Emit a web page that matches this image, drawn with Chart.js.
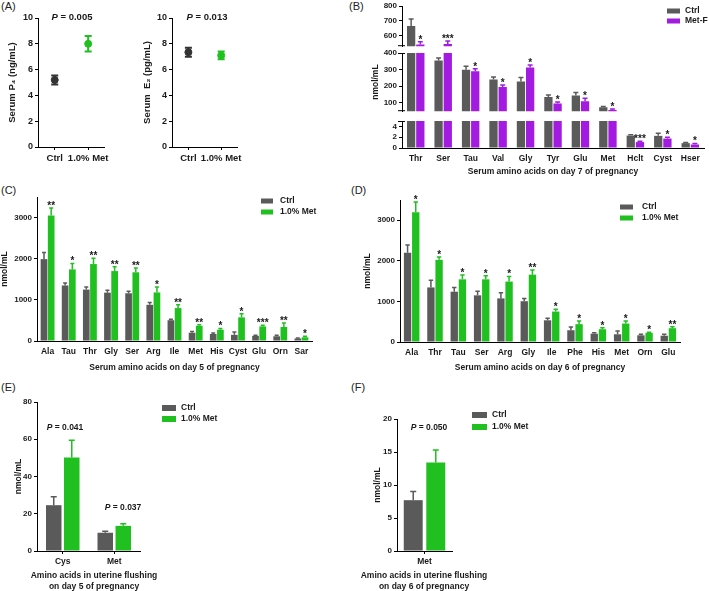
<!DOCTYPE html>
<html>
<head>
<meta charset="utf-8">
<script src="https://cdn.jsdelivr.net/npm/chart.js@4.4.0/dist/chart.umd.min.js"></script>
<style>
  body { margin: 0; background: #fff; }
  #wrap { position: relative; width: 709px; height: 591px; overflow: hidden; font-family: 'Liberation Sans', Arial, sans-serif; }
  #wrap canvas { position: absolute; }
  .tag { position: absolute; font-size: 11px; color: #222; }
</style>
</head>
<body>
<div id="wrap">
  <div class="tag" style="left:1px;top:0px">(A)</div>
  <div class="tag" style="left:349px;top:0px">(B)</div>
  <div class="tag" style="left:1px;top:184px">(C)</div>
  <div class="tag" style="left:351px;top:184px">(D)</div>
  <div class="tag" style="left:1px;top:381px">(E)</div>
  <div class="tag" style="left:351px;top:381px">(F)</div>
  <canvas id="cA1"></canvas>
  <canvas id="cA2"></canvas>
  <canvas id="cBt"></canvas>
  <canvas id="cBm"></canvas>
  <canvas id="cBb"></canvas>
  <canvas id="cC"></canvas>
  <canvas id="cD"></canvas>
  <canvas id="cE"></canvas>
  <canvas id="cF"></canvas>
</div>
<script>
// ---- data ----
// (A) serum hormones
const groupsA = ['Ctrl', '1.0% Met'];
const p4Mean = [5.2, 8.0];
const p4Err = [0.35, 0.6];
const e2Mean = [7.35, 7.1];
const e2Err = [0.35, 0.3];
const ticksA = [0, 2, 4, 6, 8, 10];

// (B) serum amino acids, day 7
const aminoB = ['Thr', 'Ser', 'Tau', 'Val', 'Gly', 'Tyr', 'Glu', 'Met', 'Hclt', 'Cyst', 'Hser'];
const ctrlB = [665, 355, 300, 240, 228, 135, 145, 74, 2.3, 2.25, 0.9];
const ctrlBErr = [47, 15, 20, 15, 25, 13, 18, 5, 0.15, 0.5, 0.1];
const metFB = [542, 545, 290, 195, 313, 96, 110, 57, 1.1, 1.75, 0.65];
const metFBErr = [18, 20, 15, 13, 15, 10, 18, 6, 0.15, 0.25, 0.2];
const starsB = ['*', '***', '*', '*', '*', '*', '*', '*', '***', '*', '*'];
const ticksBTop = [600, 700, 800];
const ticksBMid = [100, 200, 300, 400];
const ticksBBot = [0, 2, 4];

// (C) serum amino acids, day 5
const aminoC = ['Ala', 'Tau', 'Thr', 'Gly', 'Ser', 'Arg', 'Ile', 'Met', 'His', 'Cyst', 'Glu', 'Orn', 'Sar'];
const ctrlC = [1990, 1350, 1250, 1175, 1160, 880, 505, 200, 170, 150, 125, 115, 60];
const ctrlCErr = [160, 60, 65, 60, 50, 55, 25, 30, 25, 70, 15, 25, 10];
const metC = [3050, 1740, 1870, 1700, 1670, 1180, 800, 370, 275, 575, 355, 340, 90];
const metCErr = [180, 145, 140, 105, 105, 130, 80, 25, 30, 90, 30, 95, 25];
const starsC = ['**', '*', '**', '**', '**', '*', '**', '**', '*', '*', '***', '**', '*'];

// (D) serum amino acids, day 6
const aminoD = ['Ala', 'Thr', 'Tau', 'Ser', 'Arg', 'Gly', 'Ile', 'Phe', 'His', 'Met', 'Orn', 'Glu'];
const ctrlD = [2200, 1345, 1240, 1150, 1075, 1005, 535, 290, 205, 190, 165, 155];
const ctrlDErr = [190, 180, 105, 100, 140, 65, 50, 80, 20, 80, 25, 35];
const metD = [3200, 2025, 1545, 1545, 1490, 1660, 750, 440, 315, 455, 225, 340];
const metDErr = [250, 70, 105, 90, 125, 115, 60, 75, 35, 65, 15, 35];
const starsD = ['*', '*', '*', '*', '*', '**', '*', '*', '*', '*', '*', '**'];
const ticksCD = [0, 1000, 2000, 3000];

// (E) uterine flushing, day 5
const aminoE = ['Cys', 'Met'];
const ctrlE = [24.6, 9.8];
const ctrlEErr = [4.5, 0.8];
const metE = [50.2, 13.5];
const metEErr = [9.3, 1.1];
const ticksE = [0, 20, 40, 60, 80];

// (F) uterine flushing, day 6
const aminoF = ['Met'];
const ctrlF = [7.7];
const ctrlFErr = [1.3];
const metF = [13.4];
const metFErr = [1.9];
const ticksF = [0, 5, 10, 15, 20];

// ---- look ----
const ink = '#1a1a1a';
const grey = '#5a5a5a';
const dot = '#333333';
const green = '#1fc01f';
const purple = '#a31be0';
const FAM = "'Liberation Sans', Arial, sans-serif";

Chart.defaults.font.family = FAM;
Chart.defaults.font.weight = 'bold';
Chart.defaults.font.size = 8;
Chart.defaults.color = ink;
Chart.defaults.animation = false;
Chart.defaults.events = [];
Chart.defaults.plugins.legend.display = false;
Chart.defaults.plugins.tooltip.enabled = false;

// error bars (+ stars) drawn from the y scale
const whiskers = {
  id: 'whiskers',
  afterDatasetsDraw(chart, args, opts) {
    const { ctx, chartArea: a } = chart;
    const ys = chart.scales.y;
    ctx.save();
    if (opts.clip) {
      ctx.beginPath();
      ctx.rect(a.left, a.top, a.right - a.left, a.bottom - a.top);
      ctx.clip();
    }
    chart.data.datasets.forEach((ds, i) => {
      if (!ds.errors) return;
      chart.getDatasetMeta(i).data.forEach((el, j) => {
        const v = ds.data[j], e = ds.errors[j];
        const hi = ys.getPixelForValue(v + e);
        const lo = ds.both ? ys.getPixelForValue(v - e) : el.y;
        const cw = ds.both ? 3.5 : Math.min(3, el.width * 0.3);
        ctx.strokeStyle = ds.errColors ? ds.errColors[j] : ds.backgroundColor;
        ctx.lineWidth = ds.both ? 2 : 1.5;
        ctx.beginPath();
        ctx.moveTo(el.x, lo); ctx.lineTo(el.x, hi);
        ctx.moveTo(el.x - cw, hi); ctx.lineTo(el.x + cw, hi);
        if (ds.both) { ctx.moveTo(el.x - cw, lo); ctx.lineTo(el.x + cw, lo); }
        ctx.stroke();
        if (ds.stars && ds.stars[j]) {
          ctx.fillStyle = ink;
          ctx.font = 'bold 10px ' + FAM;
          ctx.textAlign = 'center';
          ctx.textBaseline = 'alphabetic';
          ctx.fillText(ds.stars[j], el.x, hi + 1);
        }
      });
    });
    ctx.restore();
  }
};

// legend boxes placed by page position
const keys = {
  id: 'keys',
  afterDraw(chart, args, o) {
    if (!o.x) return;
    const ctx = chart.ctx;
    const ox = chart.canvas.offsetLeft, oy = chart.canvas.offsetTop;
    ctx.save();
    ctx.font = 'bold 8.5px ' + FAM;
    ctx.textBaseline = 'middle';
    ctx.textAlign = 'left';
    chart.data.datasets.forEach((ds, k) => {
      const y = o.y + k * o.gap - oy;
      ctx.fillStyle = ds.backgroundColor;
      ctx.fillRect(o.x - ox, y - o.bh / 2, o.bw, o.bh);
      ctx.fillStyle = ink;
      ctx.fillText(ds.label, o.tx - ox, y);
    });
    ctx.restore();
  }
};

// P value notes and free captions
const notes = {
  id: 'notes',
  afterDraw(chart, args, o) {
    const ctx = chart.ctx;
    const ox = chart.canvas.offsetLeft, oy = chart.canvas.offsetTop;
    ctx.save();
    ctx.fillStyle = ink;
    ctx.textBaseline = 'middle';
    (o.items || []).forEach(n => {
      ctx.textAlign = 'left';
      const f1 = 'italic bold ' + o.size + 'px ' + FAM, f2 = 'bold ' + o.size + 'px ' + FAM;
      const rest = ' = ' + n.p;
      ctx.font = f1; const w1 = ctx.measureText('P').width;
      ctx.font = f2; const w2 = ctx.measureText(rest).width;
      const sx = n.x - ox - (w1 + w2) / 2;
      ctx.font = f1; ctx.fillText('P', sx, n.y - oy);
      ctx.font = f2; ctx.fillText(rest, sx + w1, n.y - oy);
    });
    if (o.caption) {
      const c = o.caption;
      ctx.font = 'bold 8.5px ' + FAM;
      ctx.textAlign = 'center';
      c.lines.forEach((t, k) => ctx.fillText(t, c.x - ox, c.y + k * c.lh - oy));
    }
    ctx.restore();
  }
};

// axis break marks for (B)
const breaks = {
  id: 'breaks',
  afterDraw(chart, args, o) {
    if (!o.ends) return;
    const { ctx, chartArea: a } = chart;
    ctx.save();
    ctx.strokeStyle = '#000';
    ctx.lineWidth = 1;
    o.ends.forEach(e => {
      const y = e === 'top' ? a.top + 0.5 : a.bottom - 0.5;
      ctx.beginPath();
      ctx.moveTo(a.left - 4, y); ctx.lineTo(a.left + 3, y);
      ctx.stroke();
    });
    ctx.restore();
  }
};

Chart.register(whiskers, keys, notes, breaks);

// size a canvas so that its chart area lands on the given page box;
// 'left' is where the y title block starts, extraL widens the canvas further left
function frame(id, area, left, xH, padR, extraL) {
  const xl = extraL || 0;
  const pad = { top: 12, right: padR, bottom: 2, left: 2 + xl };
  const c = document.getElementById(id);
  const cl = left - xl;
  const top = area.t - pad.top;
  const w = area.r + padR - cl;
  const h = area.b + xH + pad.bottom - top;
  c.width = w; c.height = h;
  c.style.left = cl + 'px'; c.style.top = top + 'px';
  c.style.width = w + 'px'; c.style.height = h + 'px';
  return { el: c, pad, yW: area.l - 2 - left, xH };
}

function yAxis(f, min, max, ticks, title, tsize, fsize) {
  return {
    min, max,
    afterBuildTicks: s => { s.ticks = ticks.map(v => ({ value: v })); },
    afterFit: s => { s.width = f.yW; },
    border: { color: '#000', width: 1 },
    grid: { drawOnChartArea: false, color: '#000', tickLength: 3 },
    ticks: { padding: 2, color: ink, font: { size: tsize || 8 }, callback: v => String(v) },
    title: title ? { display: true, text: title, padding: 0, color: ink, font: { size: fsize || 8.5 } } : { display: false }
  };
}

function xAxis(f, showTicks, title, tsize) {
  if (!f.xH) return { display: false, offset: true };
  return {
    offset: true,
    afterFit: s => { s.height = f.xH; },
    border: { color: '#000', width: 1 },
    grid: { drawOnChartArea: false, offset: false, drawTicks: showTicks, color: '#000', tickLength: 3 },
    ticks: { padding: showTicks ? 3 : 6, color: ink, autoSkip: false, maxRotation: 0, font: { size: tsize || 8.5 } },
    title: title ? { display: true, text: title, padding: 0, color: ink, font: { size: 8.5 } } : { display: false }
  };
}

function bars(ctrl, ctrlErr, trt, trtErr, stars, trtLabel, trtColor, bp, cp) {
  return [
    { label: 'Ctrl', data: ctrl, errors: ctrlErr, backgroundColor: grey, barPercentage: bp, categoryPercentage: cp, clip: 0 },
    { label: trtLabel, data: trt, errors: trtErr, stars: stars, backgroundColor: trtColor, barPercentage: bp, categoryPercentage: cp, clip: 0 }
  ];
}

// ---- (A) ----
function dotChart(id, area, left, mean, err, title, p) {
  const f = frame(id, area, left, 16, 6);
  new Chart(f.el, {
    type: 'line',
    data: {
      labels: groupsA,
      datasets: [{
        data: mean, errors: err, both: true, errColors: [dot, green], showLine: false,
        pointRadius: 3.5, pointBackgroundColor: [dot, green], pointBorderColor: [dot, green]
      }]
    },
    options: {
      responsive: false,
      layout: { padding: f.pad },
      scales: {
        x: xAxis(f, true, null, 9.5),
        y: yAxis(f, 0, 10, ticksA, title, 9, 9.5)
      },
      plugins: { notes: { size: 9.5, items: [p] } }
    }
  });
}
dotChart('cA1', { l: 38, t: 18, r: 107, b: 147 }, 5, p4Mean, p4Err, 'Serum P\u2084 (ng/mL)', { p: '0.005', x: 72, y: 17 });
dotChart('cA2', { l: 172, t: 18, r: 240, b: 147 }, 140, e2Mean, e2Err, 'Serum  E\u2082 (pg/mL)', { p: '0.013', x: 207, y: 17 });

// ---- (B) broken axis: three stacked segments ----
function segB(id, area, xH, min, max, ticks, title, ends, withKey) {
  const f = frame(id, area, 369, xH, 4);
  new Chart(f.el, {
    type: 'bar',
    data: { labels: aminoB, datasets: bars(ctrlB, ctrlBErr, metFB, metFBErr, starsB, 'Met-F', purple, 0.9, 0.67) },
    options: {
      responsive: false,
      layout: { padding: f.pad },
      scales: {
        x: xAxis(f, false, xH ? 'Serum amino acids on day 7 of pregnancy' : null),
        y: yAxis(f, min, max, ticks, title)
      },
      plugins: {
        whiskers: { clip: true },
        breaks: { ends },
        keys: withKey ? { x: 667, y: 11, gap: 10, bw: 13, bh: 5, tx: 685 } : {}
      }
    }
  });
}
segB('cBt', { l: 402, t: 6, r: 704, b: 51 }, 0, 530, 800, ticksBTop, null, ['bottom'], true);
segB('cBm', { l: 402, t: 53, r: 704, b: 116 }, 0, 50, 400, ticksBMid, 'nmol/mL', ['top', 'bottom'], false);
segB('cBb', { l: 402, t: 121, r: 704, b: 148 }, 29, 0, 5, ticksBBot, null, ['top'], false);

// ---- (C), (D) ----
function bigBars(id, area, left, xH, labels, sets, xtitle, key) {
  const f = frame(id, area, left, xH, 6);
  new Chart(f.el, {
    type: 'bar',
    data: { labels, datasets: sets },
    options: {
      responsive: false,
      layout: { padding: f.pad },
      scales: {
        x: xAxis(f, false, xtitle),
        y: yAxis(f, 0, 3500, ticksCD, 'nmol/mL')
      },
      plugins: { keys: key }
    }
  });
}
bigBars('cC', { l: 37, t: 197, r: 312, b: 341 }, -2, 32, aminoC,
  bars(ctrlC, ctrlCErr, metC, metCErr, starsC, '1.0% Met', green, 0.93, 0.68),
  'Serum amino acids on day 5 of pregnancy', { x: 261, y: 201, gap: 11, bw: 12, bh: 5, tx: 280 });
bigBars('cD', { l: 400, t: 200, r: 680, b: 342 }, 361, 31, aminoD,
  bars(ctrlD, ctrlDErr, metD, metDErr, starsD, '1.0% Met', green, 0.9, 0.7),
  'Serum amino acids on day 6 of pregnancy', { x: 620, y: 207, gap: 11, bw: 13, bh: 5, tx: 642 });

// ---- (E), (F) ----
function flushBars(id, area, left, extraL, labels, sets, max, ticks, caption, key, ps) {
  const f = frame(id, area, left, 41, 100, extraL);
  new Chart(f.el, {
    type: 'bar',
    data: { labels, datasets: sets },
    options: {
      responsive: false,
      layout: { padding: f.pad },
      scales: {
        x: xAxis(f, true, null),
        y: yAxis(f, 0, max, ticks, 'nmol/mL')
      },
      plugins: { keys: key, notes: { size: 8.5, items: ps, caption } }
    }
  });
}
flushBars('cE', { l: 37, t: 402, r: 140, b: 551 }, 12, 10, aminoE,
  bars(ctrlE, ctrlEErr, metE, metEErr, null, '1.0% Met', green, 0.86, 0.7), 80, ticksE,
  { lines: ['Amino acids in uterine flushing', 'on day 5 of pregnancy'], x: 94, y: 576, lh: 11 },
  { x: 162, y: 408, gap: 11, bw: 14, bh: 6, tx: 181 },
  [{ p: '0.041', x: 65, y: 428 }, { p: '0.037', x: 123, y: 508 }]);
flushBars('cF', { l: 397, t: 419, r: 452, b: 551 }, 371, 20, aminoF,
  bars(ctrlF, ctrlFErr, metF, metFErr, null, '1.0% Met', green, 0.84, 0.82), 20, ticksF,
  { lines: ['Amino acids in uterine flushing', 'on day 6 of pregnancy'], x: 424, y: 576, lh: 11 },
  { x: 472, y: 415, gap: 12, bw: 15, bh: 6, tx: 492 },
  [{ p: '0.050', x: 429, y: 428 }]);
</script>
</body>
</html>
